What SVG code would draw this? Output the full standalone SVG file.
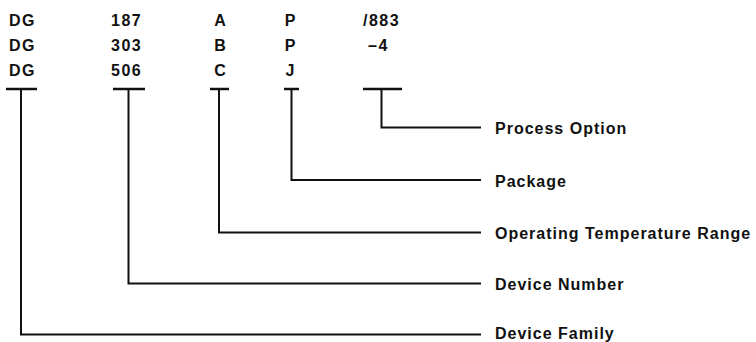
<svg xmlns="http://www.w3.org/2000/svg" width="756" height="342" viewBox="0 0 756 342">
<style>
.t{font-family:"Liberation Sans",Arial,sans-serif;font-weight:bold;font-size:16px;fill:#111;letter-spacing:1.5px}
.c{text-anchor:middle;letter-spacing:0}
.l{font-family:"Liberation Sans",Arial,sans-serif;font-weight:bold;font-size:16px;fill:#111;letter-spacing:1px}
.ln{fill:none;stroke:#111;stroke-width:2}
.bar{stroke:#111;stroke-width:2.5}
</style>
<rect width="756" height="342" fill="#fff"/>
<g id="family">
<text class="t" x="9" y="26">DG</text>
<text class="t" x="9" y="50.5">DG</text>
<text class="t" x="9" y="76">DG</text>
<line class="bar" x1="6" y1="89" x2="37" y2="89"/>
<text class="l" x="495" y="338.5">Device Family</text>
</g>
<g id="number">
<text class="t" x="111" y="26">187</text>
<text class="t" x="111" y="50.5">303</text>
<text class="t" x="111" y="76">506</text>
<line class="bar" x1="113" y1="89" x2="145" y2="89"/>
<text class="l" x="495" y="290">Device Number</text>
</g>
<g id="temperature">
<text class="t c" x="220" y="26">A</text>
<text class="t c" x="220" y="50.5">B</text>
<text class="t c" x="220" y="76">C</text>
<line class="bar" x1="210" y1="89" x2="229" y2="89"/>
<text class="l" x="495" y="239">Operating Temperature Range</text>
</g>
<g id="package">
<text class="t c" x="290" y="26">P</text>
<text class="t c" x="290" y="50.5">P</text>
<text class="t c" x="290" y="76">J</text>
<line class="bar" x1="284" y1="89" x2="299" y2="89"/>
<text class="l" x="495" y="186.5">Package</text>
</g>
<g id="process">
<text class="t" x="363" y="26">/883</text>
<text class="t" x="368" y="50.5">–4</text>
<line class="bar" x1="363" y1="89" x2="402" y2="89"/>
<text class="l" x="495" y="134">Process Option</text>
</g>
<g id="connectors">
<polyline class="ln" points="381.5,89 381.5,127.5 481,127.5"/>
<polyline class="ln" points="291.5,89 291.5,180 481,180"/>
<polyline class="ln" points="219,89 219,232.5 481,232.5"/>
<polyline class="ln" points="128.5,89 128.5,283.5 481,283.5"/>
<polyline class="ln" points="21,89 21,334.5 481,334.5"/>
</g>
</svg>
